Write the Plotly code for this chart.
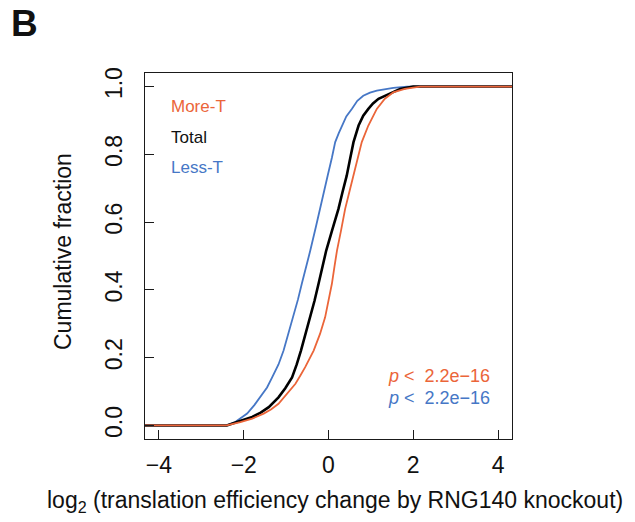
import plotly.graph_objects as go

# Cumulative distributions of log2 translation-efficiency change (RNG140 KO)
less_t_x = [-4.5, -2.40, -2.20, -2.05, -1.92, -1.75, -1.61, -1.45, -1.33, -1.18, -1.06, -0.95,
            -0.84, -0.72, -0.63, -0.52, -0.43, -0.30, -0.195, -0.10, -0.02, 0.08, 0.158,
            0.24, 0.315, 0.42, 0.55, 0.68, 0.82, 0.98, 1.14, 1.35, 1.53, 1.85, 4.5]
less_t_y = [0.0, 0.0, 0.010, 0.022, 0.035, 0.060, 0.083, 0.112, 0.142, 0.180, 0.221, 0.268,
            0.319, 0.372, 0.418, 0.470, 0.516, 0.585, 0.639, 0.690, 0.737, 0.790, 0.836,
            0.862, 0.885, 0.912, 0.934, 0.958, 0.973, 0.982, 0.988, 0.993, 0.996, 1.0, 1.0]

total_x = [-4.5, -2.40, -2.16, -1.98, -1.80, -1.60, -1.41, -1.18, -1.02, -0.86, -0.75, -0.65,
           -0.54, -0.43, -0.33, -0.235, -0.14, -0.054, 0.09, 0.235, 0.33, 0.43, 0.51, 0.59,
           0.71, 0.82, 0.94, 1.05, 1.18, 1.41, 1.69, 2.0, 4.5]
total_y = [0.0, 0.0, 0.010, 0.017, 0.025, 0.038, 0.054, 0.083, 0.110, 0.142, 0.180, 0.221,
           0.270, 0.319, 0.368, 0.418, 0.468, 0.516, 0.578, 0.639, 0.688, 0.737, 0.787, 0.836,
           0.885, 0.914, 0.934, 0.950, 0.964, 0.978, 0.993, 1.0, 1.0]

more_t_x = [-4.5, -2.40, -2.08, -1.80, -1.53, -1.35, -1.18, -0.98, -0.78, -0.66, -0.55, -0.35,
            -0.20, -0.08, 0.00, 0.08, 0.14, 0.20, 0.30, 0.393, 0.49, 0.59, 0.69, 0.785,
            0.94, 1.14, 1.33, 1.53, 1.80, 2.16, 4.5]
more_t_y = [0.0, 0.0, 0.010, 0.020, 0.035, 0.048, 0.064, 0.092, 0.123, 0.148, 0.172, 0.221,
            0.270, 0.319, 0.368, 0.418, 0.468, 0.516, 0.578, 0.639, 0.688, 0.737, 0.787, 0.836,
            0.885, 0.934, 0.964, 0.983, 0.993, 1.0, 1.0]

x_ticks = [-4, -2, 0, 2, 4]
y_ticks = [0.0, 0.2, 0.4, 0.6, 0.8, 1.0]
y_tick_text = ["0.0", "0.2", "0.4", "0.6", "0.8", "1.0"]

group_names = ["More-T", "Total", "Less-T"]
p_values = ["2.2e\u221216", "2.2e\u221216"]

ORANGE = "#EB6539"
BLUE = "#4677C6"
BLACK = "#000000"
FONT = "Liberation Sans, Arial, Helvetica, sans-serif"

W, H = 635, 522
L, R, T, B = 145, 123, 73, 83


def px(x):
    return (x - L) / (W - L - R)


def py(y):
    return (H - B - y) / (H - T - B)


fig = go.Figure()
fig.add_trace(go.Scatter(x=less_t_x, y=less_t_y, mode="lines",
                         line=dict(color=BLUE, width=1.8), name=group_names[2]))
fig.add_trace(go.Scatter(x=total_x, y=total_y, mode="lines",
                         line=dict(color=BLACK, width=2.6), name=group_names[1]))
fig.add_trace(go.Scatter(x=more_t_x, y=more_t_y, mode="lines",
                         line=dict(color=ORANGE, width=1.8), name=group_names[0]))

axis_common = dict(showline=True, mirror=True, linecolor="#1a1a1a", linewidth=1.4,
                   ticks="inside", ticklen=9, tickwidth=1.4, tickcolor="#1a1a1a",
                   showgrid=False, zeroline=False,
                   tickfont=dict(family=FONT, size=23, color="#111111"))

fig.update_xaxes(range=[-4.33, 4.33], tickvals=x_ticks, ticklabelstandoff=5, **axis_common)
fig.update_yaxes(range=[-0.04, 1.04], tickvals=y_ticks, ticktext=y_tick_text,
                 tickangle=-90, ticklabelstandoff=13, **axis_common)

annotations = [
    dict(x=px(24), y=py(23), text="<b>B</b>", font=dict(family=FONT, size=37, color="#111111")),
    dict(x=px(63), y=py(252), text="Cumulative fraction", textangle=-90,
         font=dict(family=FONT, size=23, color="#111111")),
    dict(x=px(335), y=py(501), text="log<sub>2</sub> (translation efficiency change by RNG140 knockout)",
         font=dict(family=FONT, size=23, color="#111111")),
]
legend_colors = [ORANGE, "#111111", BLUE]
legend_y = [106, 137, 167]
for name, col, yy in zip(group_names, legend_colors, legend_y):
    annotations.append(dict(x=px(169), y=py(yy), text=name, xanchor="left",
                            font=dict(family=FONT, size=17, color=col)))
for pv, col, yy in zip(p_values, [ORANGE, BLUE], [376, 398]):
    annotations.append(dict(x=px(492), y=py(yy), text="<i>p</i> <\u00a0 " + pv, xanchor="right",
                            font=dict(family=FONT, size=18, color=col)))

for a in annotations:
    a.setdefault("xanchor", "center")
    a.update(xref="paper", yref="paper", yanchor="middle", showarrow=False)

fig.update_layout(width=W, height=H, margin=dict(l=L, r=R, t=T, b=B),
                  plot_bgcolor="white", paper_bgcolor="white", showlegend=False,
                  annotations=annotations)

fig.write_html("out.html")
